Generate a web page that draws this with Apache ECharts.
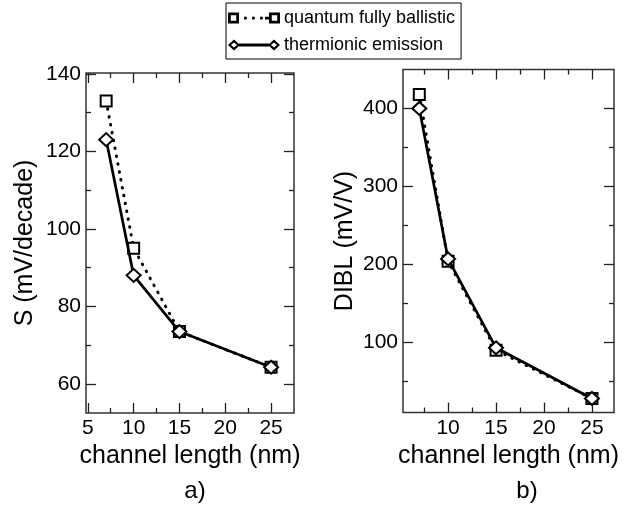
<!DOCTYPE html>
<html>
<head>
<meta charset="utf-8">
<script src="https://cdn.jsdelivr.net/npm/echarts@6/dist/echarts.min.js"></script>
<style>
html,body{margin:0;padding:0;background:#fff;}
#chart{width:644px;height:507px;}
</style>
</head>
<body>
<div id="chart"></div>
<script>
// ---- data ----
const lengths = [7, 10, 15, 25];
const seriesNames = ['quantum fully ballistic', 'thermionic emission'];
const sBallistic = [133, 95, 73.5, 64.3];
const sThermionic = [123, 88, 73.5, 64.3];
const diblBallistic = [418, 204, 90, 28];
const diblThermionic = [400, 207, 93, 28];

const xMajorA = [5, 10, 15, 20, 25];
const xMinorA = [7.5, 12.5, 17.5, 22.5];
const yMajorA = [60, 80, 100, 120, 140];
const yMinorA = [70, 90, 110, 130];
const xMajorB = [10, 15, 20, 25];
const xMinorB = [7.5, 12.5, 17.5, 22.5];
const yMajorB = [100, 200, 300, 400];
const yMinorB = [50, 150, 250, 350];

const FONT = 'Liberation Sans, Arial, Helvetica, sans-serif';
const chart = echarts.init(document.getElementById('chart'));

// legend glyphs: marker - line - marker
const ICON_SQUARE = 'path://M0,0 L11,0 L11,11 L0,11 Z M2.8,2.8 L2.8,8.2 L8.2,8.2 L8.2,2.8 Z ' +
  'M16,4.2 L18.8,4.2 L18.8,7 L16,7 Z M24,4.2 L26.8,4.2 L26.8,7 L24,7 Z ' +
  'M32,4.2 L34.8,4.2 L34.8,7 L32,7 Z M37,4.2 L41,4.2 L41,7 L37,7 Z ' +
  'M41,0 L52,0 L52,11 L41,11 Z M43.8,2.8 L43.8,8.2 L49.2,8.2 L49.2,2.8 Z';
const ICON_DIAMOND = 'path://M6,0 L12,5.5 L6,11 L0,5.5 Z M6,3.1 L3,5.5 L6,7.9 L9,5.5 Z ' +
  'M11,4.1 L41,4.1 L41,6.9 L11,6.9 Z ' +
  'M46,0 L52,5.5 L46,11 L40,5.5 Z M46,3.1 L43,5.5 L46,7.9 L49,5.5 Z';

function axesFor(dim, gridIndex, min, max, major, minor, name, nameGap) {
  const posMain = dim === 'x' ? 'bottom' : 'left';
  const posMirror = dim === 'x' ? 'top' : 'right';
  const base = {
    type: 'value', gridIndex: gridIndex, min: min, max: max,
    splitLine: { show: false },
    axisLine: { show: false }
  };
  const tickStyle = { color: '#222', width: 1.3 };
  const main = Object.assign({}, base, {
    position: posMain,
    axisTick: { show: true, inside: true, length: 10, lineStyle: tickStyle, customValues: major },
    axisLabel: {
      show: true, customValues: major, inside: false, margin: 5,
      color: '#000', fontSize: 21, fontFamily: FONT
    },
    name: name, nameLocation: 'middle', nameGap: nameGap,
    nameTextStyle: { color: '#000', fontSize: 25, fontFamily: FONT }
  });
  const mainMinor = Object.assign({}, base, {
    position: posMain,
    axisTick: { show: true, inside: true, length: 5, lineStyle: tickStyle, customValues: minor },
    axisLabel: { show: false, customValues: minor }
  });
  const mirror = Object.assign({}, base, {
    position: posMirror,
    axisTick: { show: true, inside: true, length: 10, lineStyle: tickStyle, customValues: major },
    axisLabel: { show: false, customValues: major }
  });
  const mirrorMinor = Object.assign({}, base, {
    position: posMirror,
    axisTick: { show: true, inside: true, length: 5, lineStyle: tickStyle, customValues: minor },
    axisLabel: { show: false, customValues: minor }
  });
  return [main, mainMinor, mirror, mirrorMinor];
}

const xAxes = [].concat(
  axesFor('x', 0, 4.8, 27.5, xMajorA, xMinorA, 'channel length (nm)', 30),
  axesFor('x', 1, 5.3, 27.3, xMajorB, xMinorB, 'channel length (nm)', 30)
);
const yAxes = [].concat(
  axesFor('y', 0, 52.5, 140.2, yMajorA, yMinorA, 'S (mV/decade)', 48),
  axesFor('y', 1, 10, 450, yMajorB, yMinorB, 'DIBL (mV/V)', 45)
);

function pairs(xs, ys) { return xs.map((x, i) => [x, ys[i]]); }

function dottedSeries(name, data, gi) {
  return {
    name: name, type: 'line', xAxisIndex: gi * 4, yAxisIndex: gi * 4,
    data: data, symbol: 'emptyRect', symbolSize: 11,
    lineStyle: { color: '#000', width: 3, type: [0.5, 7.5], cap: 'round' },
    itemStyle: { color: '#000', borderColor: '#000', borderWidth: 2.8 },
    z: 2, animation: false
  };
}
function solidSeries(name, data, gi) {
  return {
    name: name, type: 'line', xAxisIndex: gi * 4, yAxisIndex: gi * 4,
    data: data, symbol: 'emptyDiamond', symbolSize: [14, 13],
    lineStyle: { color: '#000', width: 2.7 },
    itemStyle: { color: '#000', borderColor: '#000', borderWidth: 2.8 },
    z: 3, animation: false
  };
}

chart.setOption({
  backgroundColor: '#fff',
  animation: false,
  legend: {
    left: 226, top: 3, orient: 'vertical',
    data: [
      { name: seriesNames[0], icon: ICON_SQUARE },
      { name: seriesNames[1], icon: ICON_DIAMOND }
    ],
    itemWidth: 52, itemHeight: 11, itemGap: 9,
    padding: [6, 6, 5, 2],
    borderColor: '#000', borderWidth: 1,
    itemStyle: { color: '#000', borderWidth: 0 },
    textStyle: { color: '#000', fontSize: 18, fontFamily: FONT, padding: [0, 0, 0, -1] }
  },
  title: [
    { text: 'a)', left: 190, top: 474, textAlign: 'center',
      textStyle: { color: '#000', fontSize: 24, fontWeight: 'normal', fontFamily: FONT } },
    { text: 'b)', left: 522, top: 474, textAlign: 'center',
      textStyle: { color: '#000', fontSize: 24, fontWeight: 'normal', fontFamily: FONT } }
  ],
  grid: [
    { left: 86, top: 73, width: 208, height: 340, show: true, borderColor: '#333', borderWidth: 1.5, backgroundColor: 'transparent' },
    { left: 403, top: 69.5, width: 211, height: 343, show: true, borderColor: '#333', borderWidth: 1.5, backgroundColor: 'transparent' }
  ],
  xAxis: xAxes,
  yAxis: yAxes,
  series: [
    dottedSeries(seriesNames[0], pairs(lengths, sBallistic), 0),
    solidSeries(seriesNames[1], pairs(lengths, sThermionic), 0),
    dottedSeries(seriesNames[0], pairs(lengths, diblBallistic), 1),
    solidSeries(seriesNames[1], pairs(lengths, diblThermionic), 1)
  ]
});
</script>
</body>
</html>
